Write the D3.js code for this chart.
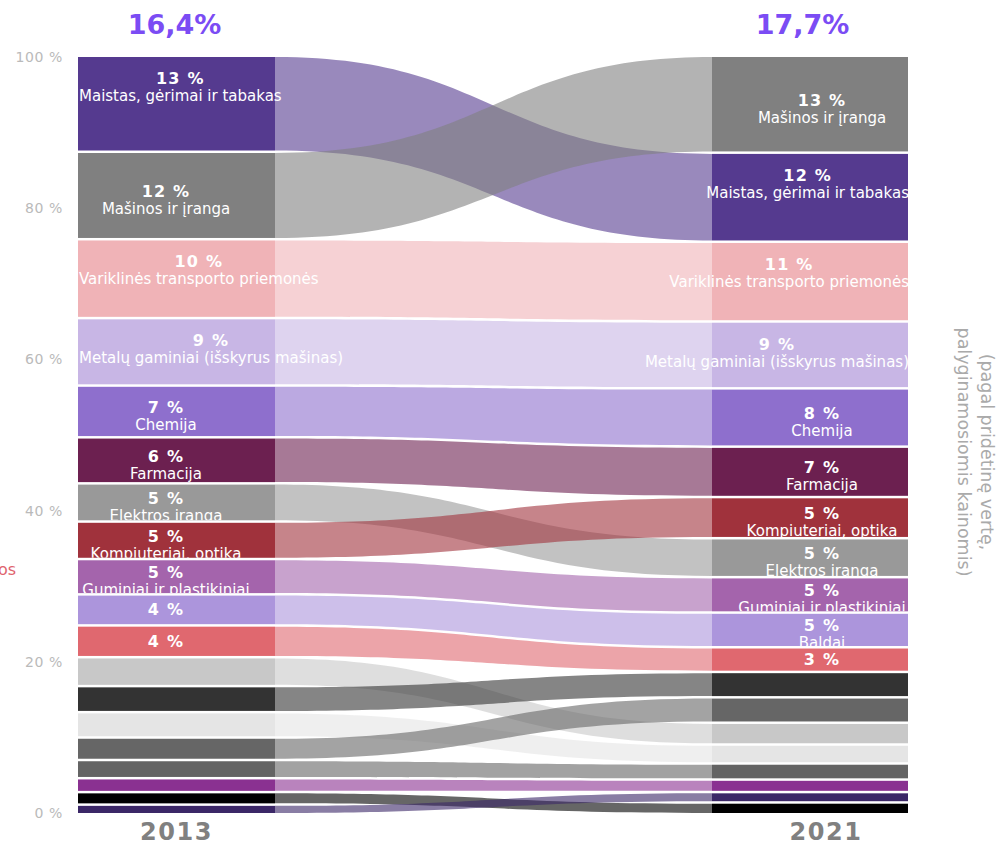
<!DOCTYPE html>
<html lang="lt">
<head>
<meta charset="utf-8">
<title>Apdirbamoji gamyba 2013–2021</title>
<script src="https://cdn.jsdelivr.net/npm/d3@7"></script>
<style>
  body { margin: 0; background: #fff; }
  svg { display: block; font-family: "DejaVu Sans", Verdana, sans-serif; }
</style>
</head>
<body>
<svg id="chart" width="996" height="846"></svg>
<script>
// categories in 2013 order (unnamed ones are not labelled on the chart)
var names = ["Maistas, gėrimai ir tabakas", "Mašinos ir įranga", "Variklinės transporto priemonės",
  "Metalų gaminiai (išskyrus mašinas)", "Chemija", "Farmacija", "Elektros įranga",
  "Kompiuteriai, optika", "Guminiai ir plastikiniai", "Baldai", "", "", "", "", "", "", "", "", ""];
var colors = ["#553a8f", "#808080", "#f0b3b7", "#c8b6e5", "#8e6fcd", "#6c2050", "#999999",
  "#a0323c", "#a464ac", "#ac95dc", "#e0686f", "#c8c8c8", "#333333", "#e5e5e5", "#666666",
  "#646464", "#8a3191", "#000000", "#3b2767"];
var share2013 = [13.1, 11.9, 10.7, 9.1, 6.9, 6.1, 5.0, 4.9, 4.6, 4.0, 4.1, 3.7, 3.3, 3.2, 2.8, 2.2, 1.6, 1.4, 1.0];
var share2021 = [12.1, 13.2, 10.8, 9.0, 7.8, 6.7, 5.1, 5.4, 4.6, 4.5, 3.1, 2.7, 3.2, 2.3, 3.2, 1.9, 1.4, 1.3, 1.1];
var label2013 = ["13 %", "12 %", "10 %", "9 %", "7 %", "6 %", "5 %", "5 %", "5 %", "4 %", "4 %"];
var label2021 = ["12 %", "13 %", "11 %", "9 %", "8 %", "7 %", "5 %", "5 %", "5 %", "5 %", "3 %"];
var order2013 = d3.range(19);
var order2021 = [1, 0, 2, 3, 4, 5, 7, 6, 8, 9, 10, 12, 14, 11, 13, 15, 16, 18, 17];
var years = ["2013", "2021"];
var totals = ["16,4%", "17,7%"];
var yTicks = [0, 20, 40, 60, 80, 100];
var axisNote = ["(pagal pridėtinę vertę,", "palyginamosiomis kainomis)"];

var svg = d3.select("#chart");
var y = d3.scaleLinear().domain([0, 100]).range([813, 57]);
var pad = 2.5;

// y axis
var ax = svg.append("g").attr("transform", "translate(70,0)")
  .call(d3.axisLeft(y).tickValues(yTicks).tickSize(0).tickPadding(7).tickFormat(function(d){ return d + " %"; }));
ax.select(".domain").remove();
ax.selectAll("text").attr("fill", "#bababa").style("font-size", "14px")
  .style("font-family", "DejaVu Sans, sans-serif").style("letter-spacing", "0.6px");

function stack(order, values) {
  var total = d3.sum(values);
  var h = d3.scaleLinear().domain([0, total]).range([0, y(0) - y(100) - pad * (order.length - 1)]);
  var pos = {}, cur = y(100);
  order.forEach(function(i){
    pos[i] = {y0: cur, y1: cur + h(values[i])};
    cur += h(values[i]) + pad;
  });
  return pos;
}

var cols = [
  {x0: 78, x1: 275, lx: 166, pos: stack(order2013, share2013), labels: label2013, year: years[0], total: totals[0], yx: 176.5, tx: 174.5},
  {x0: 712, x1: 908, lx: 822, pos: stack(order2021, share2021), labels: label2021, year: years[1], total: totals[1], yx: 826, tx: 802.5}
];

// links
var L = cols[0], R = cols[1], xm = (L.x1 + R.x0) / 2;
svg.append("g").selectAll("path").data(order2013).enter().append("path")
  .attr("d", function(i){
    var s = L.pos[i], t = R.pos[i], p = d3.path();
    p.moveTo(L.x1, s.y0);
    p.bezierCurveTo(xm, s.y0, xm, t.y0, R.x0, t.y0);
    p.lineTo(R.x0, t.y1);
    p.bezierCurveTo(xm, t.y1, xm, s.y1, L.x1, s.y1);
    p.closePath();
    return p.toString();
  })
  .attr("fill", function(i){ return colors[i]; })
  .attr("fill-opacity", 0.6);

// nodes
cols.forEach(function(c, ci){
  var g = svg.append("g");
  g.selectAll("rect").data(order2013).enter().append("rect")
    .attr("x", c.x0).attr("width", c.x1 - c.x0)
    .attr("y", function(i){ return c.pos[i].y0; })
    .attr("height", function(i){ return c.pos[i].y1 - c.pos[i].y0; })
    .attr("fill", function(i){ return colors[i]; });

  // labels, clipped to their bar vertically
  c.labels.forEach(function(lab, i){
    var p = c.pos[i], hh = p.y1 - p.y0, mid = (p.y0 + p.y1) / 2;
    var clipId = "clip" + ci + "_" + i;
    svg.append("clipPath").attr("id", clipId).append("rect")
      .attr("x", 0).attr("width", 996).attr("y", p.y0).attr("height", hh);
    var lg = svg.append("g").attr("clip-path", "url(#" + clipId + ")");
    var showName = names[i] && hh >= 30;
    var pctY, nameY, w = 0, nm;
    if (showName) {
      nm = lg.append("text").text(names[i]).attr("fill", "#fff")
        .style("font-size", "15px").attr("text-anchor", "middle");
      w = nm.node().getComputedTextLength();
      if (w > c.x1 - c.x0) { pctY = p.y0 + 27; nameY = p.y0 + 44; }
      else { pctY = mid + 1.5; nameY = mid + 18.5; }
    } else {
      pctY = mid + 5.5;
    }
    var cx = ci === 0 ? Math.max(c.lx, c.x0 + 1 + w / 2) : Math.min(c.lx, c.x1 + 1 - w / 2);
    if (nm) nm.attr("x", cx).attr("y", nameY);
    lg.append("text").text(lab).attr("x", cx).attr("y", pctY)
      .attr("fill", "#fff").attr("text-anchor", "middle")
      .style("font-size", "16px").style("font-weight", "bold").style("letter-spacing", "1.2px");
  });

  svg.append("text").text(c.year).attr("x", c.yx).attr("y", 840)
    .attr("text-anchor", "middle").attr("fill", "#808080")
    .style("font-size", "24px").style("font-weight", "bold").style("letter-spacing", "1.5px");
  svg.append("text").text(c.total).attr("x", c.tx).attr("y", 34)
    .attr("text-anchor", "middle").attr("fill", "#7b4cf4")
    .style("font-size", "27px").style("font-weight", "bold");
});

// clipped legend remnant on the left
svg.append("text").text("os").attr("x", 16).attr("y", 575)
  .attr("text-anchor", "end").attr("fill", "#e0646e").style("font-size", "16px");

// rotated axis note on the right
axisNote.forEach(function(t, k){
  svg.append("text").text(t)
    .attr("transform", "translate(" + (981 - k * 23) + ",452) rotate(90)")
    .attr("text-anchor", "middle").attr("fill", "#aaaaaa").style("font-size", "17.5px");
});
</script>
</body>
</html>
